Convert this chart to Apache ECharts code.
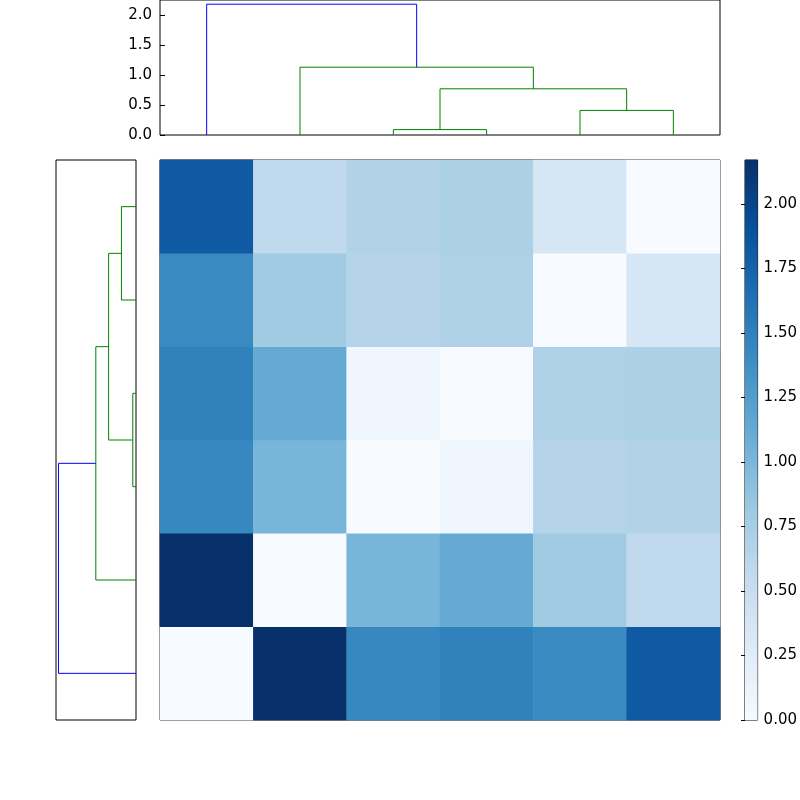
<!DOCTYPE html>
<html><head><meta charset="utf-8">
<script src="https://cdn.jsdelivr.net/npm/echarts@6/dist/echarts.min.js"></script>
<style>html,body{margin:0;padding:0;background:#fff}#c{width:800px;height:800px}</style>
</head><body><div id="c"></div>
<script>
// distance matrix, item order 0..5 (item 0 = bottom row / left column)
const dist = [
  [0.00, 2.17, 1.45, 1.50, 1.42, 1.82],
  [2.17, 0.00, 1.02, 1.12, 0.80, 0.58],
  [1.45, 1.02, 0.00, 0.08, 0.66, 0.68],
  [1.50, 1.12, 0.08, 0.00, 0.70, 0.72],
  [1.42, 0.80, 0.66, 0.70, 0.00, 0.36],
  [1.82, 0.58, 0.68, 0.72, 0.36, 0.00]
];
// linkage: [childA, childB, height]
const linkage = [[2,3,0.09],[4,5,0.41],[6,7,0.77],[1,8,1.13],[0,9,2.18]];
const linkColors = ['#008000','#008000','#008000','#008000','#0000ff'];
const dendroTicks = [0,0.5,1.0,1.5,2.0];
const cbarMax = 2.17;
const blues = ['#f7fbff','#deebf7','#c6dbef','#9ecae1','#6baed6','#4292c6','#2171b5','#08519c','#08306b'];

const n = dist.length;
const pos = [], hgt = [];
for (let i=0;i<n;i++){pos.push(i+0.5);hgt.push(0);}
const links = [];
linkage.forEach((l,k)=>{
  const [a,b,h]=l;
  links.push({pts:[[pos[a],hgt[a]],[pos[a],h],[pos[b],h],[pos[b],hgt[b]]],color:linkColors[k]});
  pos.push((pos[a]+pos[b])/2); hgt.push(h);
});
const heat=[];
for(let i=0;i<n;i++)for(let j=0;j<n;j++)heat.push([j,i,dist[i][j]]);
const cats=dist.map((_,i)=>String(i));
const font={fontFamily:'DejaVu Sans',fontSize:15,color:'#000'};
const frame={show:true,borderColor:'#000',borderWidth:1,backgroundColor:'transparent'};
const series=[];
links.forEach(L=>{
  series.push({type:'line',xAxisIndex:1,yAxisIndex:1,data:L.pts,symbol:'none',lineStyle:{color:L.color,width:1},silent:true,animation:false});
  series.push({type:'line',xAxisIndex:2,yAxisIndex:2,data:L.pts.map(p=>[p[1],p[0]]),symbol:'none',lineStyle:{color:L.color,width:1},silent:true,animation:false});
});
series.push({type:'heatmap',xAxisIndex:0,yAxisIndex:0,data:heat,animation:false});
series.push({type:'custom',xAxisIndex:3,yAxisIndex:3,data:[[0,cbarMax]],animation:false,
  renderItem:(p,api)=>{
    const a=api.coord([0,0]),b=api.coord([1,cbarMax]);
    return {type:'rect',shape:{x:a[0],y:b[1],width:b[0]-a[0],height:a[1]-b[1]},
      style:{fill:new echarts.graphic.LinearGradient(0,1,0,0,blues.map((c,i)=>({offset:i/(blues.length-1),color:c})))}};
  }});
const chart=echarts.init(document.getElementById('c'));
chart.setOption({
  animation:false,
  grid:[
    Object.assign({left:160,top:160,width:560,height:560},frame),
    Object.assign({left:160,top:0,width:560,height:135},frame),
    Object.assign({left:56,top:160,width:80,height:560},frame),
    Object.assign({left:745,top:160,width:15,height:560},frame)
  ],
  visualMap:{show:false,min:0,max:cbarMax,seriesIndex:series.length-2,inRange:{color:blues}},
  xAxis:[
    {gridIndex:0,type:'category',data:cats,show:false},
    {gridIndex:1,type:'value',min:0,max:n,show:false},
    {gridIndex:2,type:'value',min:0,max:2.25,inverse:true,show:false},
    {gridIndex:3,type:'value',min:0,max:1,show:false}
  ],
  yAxis:[
    {gridIndex:0,type:'category',data:cats,show:false},
    {gridIndex:1,type:'value',min:0,max:2.25,interval:0.5,splitLine:{show:false},
      axisLine:{show:false},axisTick:{show:true,inside:true,length:5,lineStyle:{color:'#000'}},
      axisLabel:Object.assign({showMaxLabel:false,formatter:v=>v.toFixed(1)},font)},
    {gridIndex:2,type:'value',min:0,max:n,show:false},
    {gridIndex:3,type:'value',min:0,max:cbarMax,interval:0.25,position:'right',splitLine:{show:false},
      axisLine:{show:false},axisTick:{show:true,inside:true,length:4,lineStyle:{color:'#000'}},
      axisLabel:Object.assign({showMaxLabel:false,margin:6,formatter:v=>v.toFixed(2)},font)}
  ],
  series:series
});
</script></body></html>
